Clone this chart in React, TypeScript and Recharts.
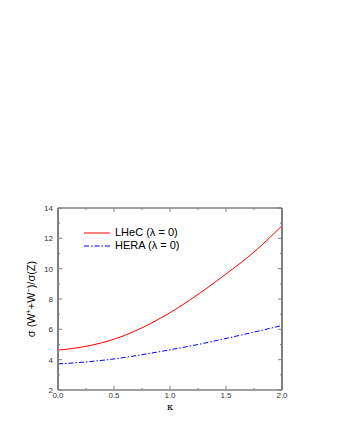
import React from 'react';
import { LineChart, Line, XAxis, YAxis, Label } from 'recharts';

const kappa = [0, 0.25, 0.5, 0.75, 1.0, 1.25, 1.5, 1.75, 2.0];
const lhec = [4.63, 4.88, 5.35, 6.1, 7.1, 8.3, 9.65, 11.1, 12.83];
const hera = [3.72, 3.85, 4.05, 4.33, 4.65, 5.0, 5.4, 5.82, 6.25];
const xTicks = [0, 0.25, 0.5, 0.75, 1.0, 1.25, 1.5, 1.75, 2.0];
const yTicks = [2, 3, 4, 5, 6, 7, 8, 9, 10, 11, 12, 13, 14];
const seriesNames = ['LHeC (λ = 0)', 'HERA (λ = 0)'];

const data = kappa.map((k, i) => ({ k, lhec: lhec[i], hera: hera[i] }));

const AXIS = '#808080';
const FONT = '"Liberation Sans", Arial, sans-serif';
const HERA_DASH = '5 2 1.5 2';

const isMajorX = (v: number) => Math.abs(v * 2 - Math.round(v * 2)) < 1e-6;
const isMajorY = (v: number) => v % 2 === 0;

const BottomTick = (props: any) => {
  const { x, y, payload } = props;
  const major = isMajorX(payload.value);
  return (
    <g>
      <line x1={x} y1={y} x2={x} y2={y - (major ? 4 : 2)} stroke={AXIS} strokeWidth={1} />
      {major && (
        <text x={x} y={y + 8} textAnchor="middle" fontSize={8} fill="#333" fontFamily={FONT}>
          {payload.value.toFixed(1)}
        </text>
      )}
    </g>
  );
};

const TopTick = (props: any) => {
  const { x, y, payload } = props;
  const major = isMajorX(payload.value);
  return <line x1={x} y1={y} x2={x} y2={y + (major ? 4 : 2)} stroke={AXIS} strokeWidth={1} />;
};

const LeftTick = (props: any) => {
  const { x, y, payload } = props;
  const major = isMajorY(payload.value);
  return (
    <g>
      <line x1={x} y1={y} x2={x + (major ? 4 : 2)} y2={y} stroke={AXIS} strokeWidth={1} />
      {major && (
        <text x={x - 5} y={y + 3} textAnchor="end" fontSize={8} fill="#333" fontFamily={FONT}>
          {payload.value}
        </text>
      )}
    </g>
  );
};

const RightTick = (props: any) => {
  const { x, y, payload } = props;
  const major = isMajorY(payload.value);
  return <line x1={x} y1={y} x2={x - (major ? 4 : 2)} y2={y} stroke={AXIS} strokeWidth={1} />;
};

const YLabel = (props: any) => {
  const vb = props.viewBox || {};
  const cx = vb.x + vb.width - 23;
  const cy = vb.y + vb.height / 2;
  return (
    <text
      x={cx}
      y={cy}
      transform={`rotate(-90 ${cx} ${cy})`}
      textAnchor="middle"
      fontSize={11}
      fill="#000"
      fontFamily={FONT}
    >
      σ (W<tspan fontSize={7} dy={-4}>+</tspan>
      <tspan dy={4}>+W</tspan>
      <tspan fontSize={7} dy={-4}>−</tspan>
      <tspan dy={4}>)/σ(Z)</tspan>
    </text>
  );
};

const XLabel = (props: any) => {
  const vb = props.viewBox || {};
  return (
    <text
      x={vb.x + vb.width / 2}
      y={vb.y + 20}
      textAnchor="middle"
      fontSize={10}
      fill="#000"
      fontFamily='"DejaVu Serif", "Liberation Serif", serif'
    >
      κ
    </text>
  );
};

const LegendBox = () => (
  <div
    style={{
      position: 'absolute',
      left: 83,
      top: 226,
      fontFamily: FONT,
      fontSize: 11,
      color: '#000',
      lineHeight: '13px',
    }}
  >
    <div style={{ display: 'flex', alignItems: 'center', height: 13 }}>
      <svg width={32} height={13} style={{ display: 'block' }}>
        <line x1={1} y1={7} x2={27} y2={7} stroke="#ff0000" strokeWidth={1} />
      </svg>
      <span>{seriesNames[0]}</span>
    </div>
    <div style={{ display: 'flex', alignItems: 'center', height: 13 }}>
      <svg width={32} height={13} style={{ display: 'block' }}>
        <line x1={1} y1={7} x2={27} y2={7} stroke="#0000ff" strokeWidth={1} strokeDasharray={HERA_DASH} />
      </svg>
      <span>{seriesNames[1]}</span>
    </div>
  </div>
);

export default function App() {
  return (
    <div style={{ position: 'absolute', left: 0, top: 0, width: 340, height: 440, background: '#fff' }}>
      <LineChart width={340} height={440} data={data} margin={{ top: 207, right: 57, bottom: 0, left: 0 }}>
        <XAxis
          dataKey="k"
          type="number"
          domain={[0, 2]}
          ticks={xTicks}
          xAxisId="b"
          height={50}
          tickSize={0}
          tickMargin={0}
          tick={<BottomTick />}
          axisLine={{ stroke: AXIS, strokeWidth: 1.5 }}
          tickLine={false}
          interval={0}
          allowDataOverflow
        >
          <Label content={<XLabel />} />
        </XAxis>
        <XAxis
          dataKey="k"
          type="number"
          domain={[0, 2]}
          ticks={xTicks}
          xAxisId="t"
          orientation="top"
          height={1}
          tickSize={0}
          tickMargin={0}
          tick={<TopTick />}
          axisLine={{ stroke: AXIS, strokeWidth: 1.5 }}
          tickLine={false}
          interval={0}
          allowDataOverflow
        />
        <YAxis
          yAxisId="l"
          type="number"
          domain={[2, 14]}
          ticks={yTicks}
          width={58}
          tickSize={0}
          tickMargin={0}
          tick={<LeftTick />}
          axisLine={{ stroke: AXIS, strokeWidth: 2 }}
          tickLine={false}
          interval={0}
          allowDataOverflow
        >
          <Label content={<YLabel />} />
        </YAxis>
        <YAxis
          yAxisId="r"
          orientation="right"
          type="number"
          domain={[2, 14]}
          ticks={yTicks}
          width={1}
          tickSize={0}
          tickMargin={0}
          tick={<RightTick />}
          axisLine={{ stroke: AXIS, strokeWidth: 2 }}
          tickLine={false}
          interval={0}
          allowDataOverflow
        />
        <Line
          xAxisId="b"
          yAxisId="l"
          type="monotone"
          dataKey="lhec"
          stroke="#ff0000"
          strokeWidth={1}
          dot={false}
          isAnimationActive={false}
        />
        <Line
          xAxisId="b"
          yAxisId="l"
          type="monotone"
          dataKey="hera"
          stroke="#0000ff"
          strokeWidth={1}
          strokeDasharray={HERA_DASH}
          dot={false}
          isAnimationActive={false}
        />
      </LineChart>
      <LegendBox />
    </div>
  );
}
